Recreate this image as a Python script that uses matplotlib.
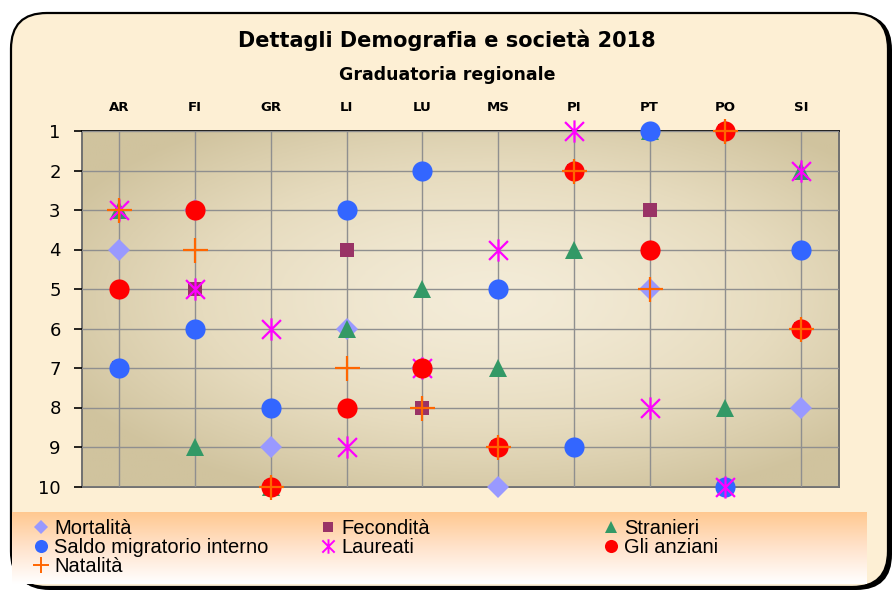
import numpy as np
import matplotlib
matplotlib.use("Agg")
import matplotlib.pyplot as plt
from matplotlib.patches import FancyBboxPatch
from matplotlib.path import Path
from matplotlib.lines import Line2D
from matplotlib.colors import LinearSegmentedColormap

# ---------------- data ----------------
regions = ["AR", "FI", "GR", "LI", "LU", "MS", "PI", "PT", "PO", "SI"]
mortalita = [4, 3, 9, 6, 7, 10, 2, 5, 1, 8]
fecondita = [7, 5, 10, 4, 8, 9, 2, 3, 1, 6]
stranieri = [3, 9, 10, 6, 5, 7, 4, 1, 8, 2]
saldo_migratorio = [7, 6, 8, 3, 2, 5, 9, 1, 10, 4]
laureati = [3, 5, 6, 9, 7, 4, 1, 8, 10, 2]
anziani = [5, 3, 10, 8, 7, 9, 2, 4, 1, 6]
natalita = [3, 4, 10, 7, 8, 9, 2, 5, 1, 6]
ranks = list(range(1, 11))

title = "Dettagli Demografia e società 2018"
subtitle = "Graduatoria regionale"

W, H = 894, 590
fig = plt.figure(figsize=(W / 100, H / 100), dpi=100)
fig.patch.set_facecolor("white")

def fx(px):
    return px / W

def fy(py):
    return 1 - py / H

# outer rounded box + shadow
shadow = FancyBboxPatch((fx(14), fy(590)), fx(878), (576) / H,
                        boxstyle="round,pad=0,rounding_size=0.04",
                        transform=fig.transFigure, facecolor="black",
                        edgecolor="none", zorder=-11, mutation_aspect=W / H)
fig.patches.append(shadow)
box = FancyBboxPatch((fx(11), fy(587)), fx(877), (574) / H,
                     boxstyle="round,pad=0,rounding_size=0.04",
                     transform=fig.transFigure, facecolor="#FDEFD4",
                     edgecolor="black", linewidth=1.6, zorder=-10,
                     mutation_aspect=W / H)
fig.patches.append(box)

# titles
fig.text(0.5, fy(40), title, ha="center", va="center", fontsize=15,
         fontweight="bold", family="DejaVu Sans")
fig.text(0.5, fy(75), subtitle, ha="center", va="center", fontsize=12.5,
         fontweight="bold", family="DejaVu Sans")

# main axes
ax = fig.add_axes([fx(81.5), fy(486.5), fx(839 - 81.5), (486.5 - 131) / H])
ax.set_xlim(-0.5, 9.5)
ax.set_ylim(10, 1)

# background gradient
gx, gy = np.meshgrid(np.linspace(-1, 1, 300), np.linspace(-1, 1, 200))
r = np.sqrt(((gx - 0.08) / 1.05) ** 2 + ((gy + 0.05) / 1.0) ** 2)
r = np.clip(r / 1.2, 0, 1) ** 1.4
cmap = LinearSegmentedColormap.from_list("bg", ["#F4ECD8", "#E6DBBE", "#D0C39E"])
ax.imshow(r, cmap=cmap, extent=(-0.5, 9.5, 10, 1), aspect="auto",
          vmin=0, vmax=1, zorder=0, interpolation="bilinear")

# grid
ax.set_xticks(range(len(regions)))
ax.set_xticklabels(regions)
ax.set_yticks(ranks)
ax.grid(True, color="#8F8F8F", linewidth=1.0, zorder=1)
ax.set_axisbelow(False)
for gl in ax.get_xgridlines() + ax.get_ygridlines():
    gl.set_zorder(1)

ax.xaxis.tick_top()
ax.tick_params(axis="x", length=0, pad=12, labelsize=9.5)
for lab in ax.get_xticklabels():
    lab.set_fontweight("bold")
ax.tick_params(axis="y", length=6, width=1.2, pad=9, labelsize=13, direction="out")

for side in ["left", "bottom", "right"]:
    ax.spines[side].set_color("#707070")
    ax.spines[side].set_linewidth(1.4)
ax.spines["top"].set_color("#202020")
ax.spines["top"].set_linewidth(1.4)

# star marker (vertical + two diagonals)
star_path = Path([(0, -1), (0, 1), (-0.85, -0.85), (0.85, 0.85), (-0.85, 0.85), (0.85, -0.85)],
                 [Path.MOVETO, Path.LINETO, Path.MOVETO, Path.LINETO, Path.MOVETO, Path.LINETO])

x = np.arange(len(regions))
series = [
    ("Mortalità", mortalita, dict(marker="D", color="#9999FF", markersize=11, markeredgewidth=0)),
    ("Fecondità", fecondita, dict(marker="s", color="#993366", markersize=10.5, markeredgewidth=0)),
    ("Stranieri", stranieri, dict(marker="^", color="#339966", markersize=13, markeredgewidth=0)),
    ("Saldo migratorio interno", saldo_migratorio, dict(marker="o", color="#3366FF", markersize=14.5, markeredgewidth=0)),
    ("Laureati", laureati, dict(marker=star_path, color="#FF00FF", markersize=16, markeredgewidth=1.6, fillstyle="none")),
    ("Gli anziani", anziani, dict(marker="o", color="#FF0000", markersize=14.5, markeredgewidth=0)),
    ("Natalità", natalita, dict(marker="+", color="#FF6600", markersize=18, markeredgewidth=1.6)),
]
handles = {}
for name, vals, st in series:
    ax.plot(x, vals, linestyle="none", clip_on=False, zorder=3, **st)
    hs = dict(st)
    hs["markersize"] = st["markersize"] * 0.65
    if "markeredgewidth" in hs and hs["markeredgewidth"]:
        hs["markeredgewidth"] = 1.4
    handles[name] = Line2D([], [], linestyle="none", **hs)

# legend background gradient
lax = fig.add_axes([fx(12), fy(584), fx(867 - 12), (584 - 512) / H], zorder=1)
grad = np.linspace(0, 1, 100).reshape(-1, 1)
lcmap = LinearSegmentedColormap.from_list("lg", ["#FFC88F", "#FFE3CC", "#FFFFFF"])
lax.imshow(grad, cmap=lcmap, aspect="auto", extent=(0, 1, 0, 1))
lax.set_axis_off()

prop = dict(family=["Liberation Sans Narrow", "Liberation Sans", "DejaVu Sans"], size=14.5)
cols = [
    (33, ["Mortalità", "Saldo migratorio interno", "Natalità"]),
    (320, ["Fecondità", "Laureati"]),
    (603, ["Stranieri", "Gli anziani"]),
]
for xpx, names in cols:
    leg = fig.legend([handles[n] for n in names], names, loc="upper left",
                     bbox_to_anchor=(fx(xpx), fy(519)), frameon=False, prop=prop,
                     handlelength=0.75, handletextpad=0.3, labelspacing=0.0,
                     borderpad=0, borderaxespad=0)
    leg.set_zorder(5)

fig.savefig("out.png", dpi=100)
